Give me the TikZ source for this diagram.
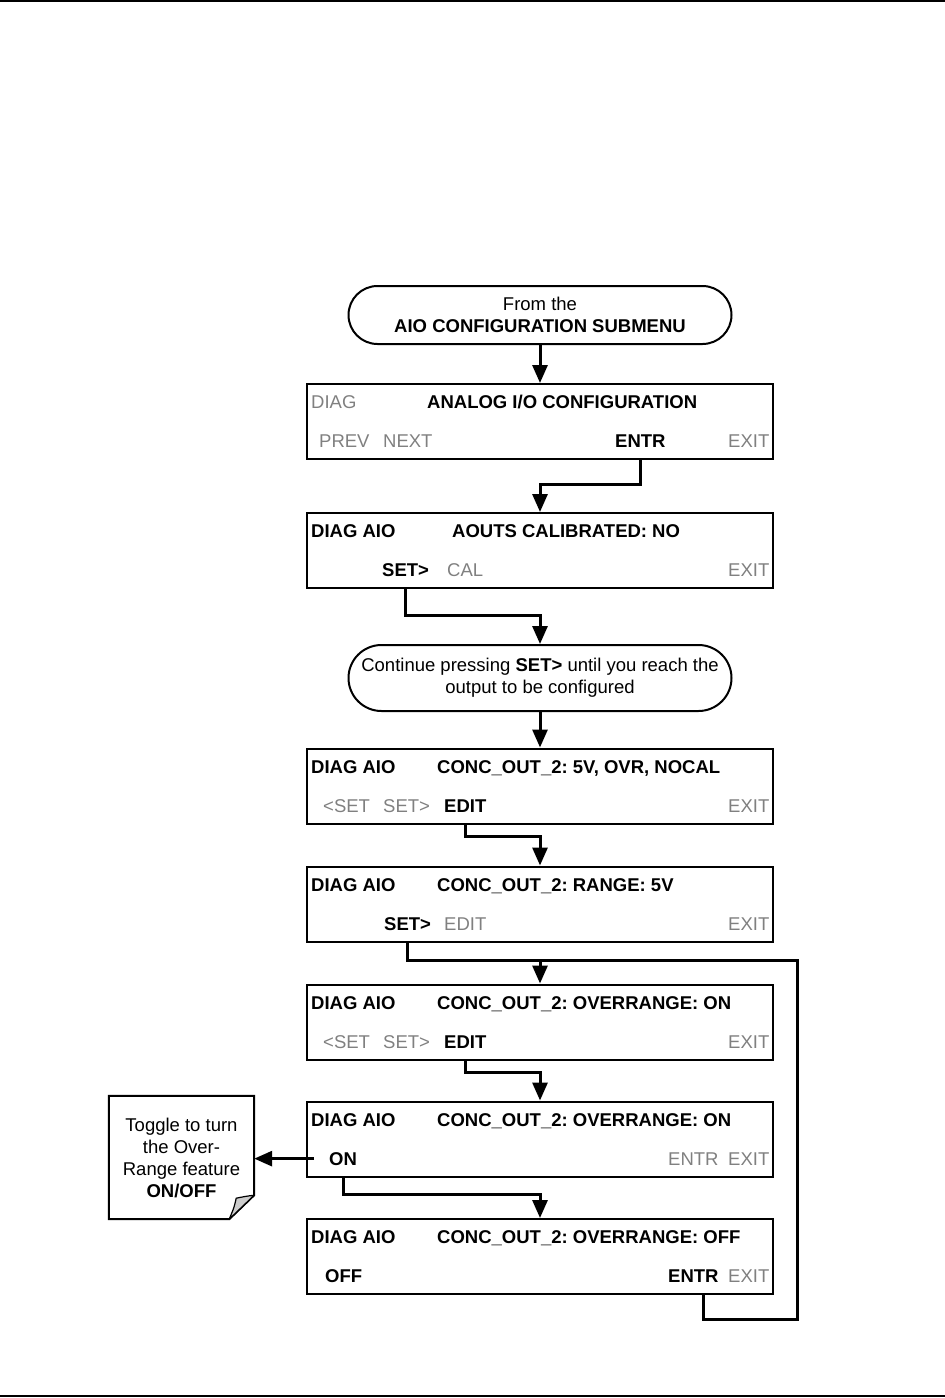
\documentclass[tikz,border=0pt]{standalone}
\usepackage{fontspec}
\setmainfont{Liberation Sans}
\usetikzlibrary{positioning, arrows.meta}
\frenchspacing

\begin{document}
\begin{tikzpicture}[
        x=1pt, y=-1pt,
        font=\fontsize{18.5pt}{22pt}\selectfont,
        screen/.style={draw, line width=2pt, minimum width=466pt, minimum height=75pt, inner sep=0pt},
        terminal/.style={draw, line width=2pt, minimum width=383pt, align=center, inner sep=0pt},
        btn/.style={anchor=base west, inner sep=0pt, font=\fontsize{18.5pt}{22pt}\selectfont\bfseries},
        btnoff/.style={anchor=base west, inner sep=0pt, text=black!50},
        wire/.style={draw, line width=3pt},
        arrow/.style={wire, -{Triangle[length=18pt, width=15pt]}}
    ]
    \useasboundingbox (0,0) rectangle (945,1398);

    % page rules
    \fill (0,0) rectangle (945,2);
    \fill (0,1395) rectangle (945,1397);

    % entry and hint
    \node (start) [terminal, minimum height=58pt, rounded corners=29pt] at (540,315) {From the\\\textbf{AIO CONFIGURATION SUBMENU}};
    \node (hint) [terminal, minimum height=66pt, rounded corners=33pt] at (540,678) {Continue pressing \textbf{SET>} until you reach the\\output to be configured};

    % screens
    \node (box1) [screen] at (540,421.5) {};
    \node (diag1) [btnoff] at (311,408) {DIAG};
    \node (title1) [btn] at (427,408) {ANALOG I/O CONFIGURATION};
    \node (prev1) [btnoff] at (319,447) {PREV};
    \node (next1) [btnoff] at (383,447) {NEXT};
    \node (entr1) [btn] at (615,447) {ENTR};
    \node (exit1) [btnoff] at (728,447) {EXIT};

    \node (box2) [screen] at (540,550.5) {};
    \node (diag2) [btn] at (311,537) {DIAG AIO};
    \node (title2) [btn] at (452,537) {AOUTS CALIBRATED: NO};
    \node (set2) [btn] at (382,576) {SET>};
    \node (cal2) [btnoff] at (447,576) {CAL};
    \node (exit2) [btnoff] at (728,576) {EXIT};

    \node (box3) [screen] at (540,786) {};
    \node (diag3) [btn] at (311,773) {DIAG AIO};
    \node (title3) [btn] at (437,773) {CONC\_OUT\_2: 5V, OVR, NOCAL};
    \node (prev3) [btnoff] at (323,812) {<SET};
    \node (next3) [btnoff] at (383,812) {SET>};
    \node (edit3) [btn] at (444,812) {EDIT};
    \node (exit3) [btnoff] at (728,812) {EXIT};

    \node (box4) [screen] at (540,904) {};
    \node (diag4) [btn] at (311,891) {DIAG AIO};
    \node (title4) [btn] at (437,891) {CONC\_OUT\_2: RANGE: 5V};
    \node (set4) [btn] at (384,930) {SET>};
    \node (edit4) [btnoff] at (444,930) {EDIT};
    \node (exit4) [btnoff] at (728,930) {EXIT};

    \node (box5) [screen] at (540,1022) {};
    \node (diag5) [btn] at (311,1009) {DIAG AIO};
    \node (title5) [btn] at (437,1009) {CONC\_OUT\_2: OVERRANGE: ON};
    \node (prev5) [btnoff] at (323,1048) {<SET};
    \node (next5) [btnoff] at (383,1048) {SET>};
    \node (edit5) [btn] at (444,1048) {EDIT};
    \node (exit5) [btnoff] at (728,1048) {EXIT};

    \node (box6) [screen] at (540,1139) {};
    \node (diag6) [btn] at (311,1126) {DIAG AIO};
    \node (title6) [btn] at (437,1126) {CONC\_OUT\_2: OVERRANGE: ON};
    \node (on6) [btn] at (329,1165) {ON};
    \node (entr6) [btnoff] at (668,1165) {ENTR};
    \node (exit6) [btnoff] at (728,1165) {EXIT};

    \node (box7) [screen] at (540,1256.5) {};
    \node (diag7) [btn] at (311,1243) {DIAG AIO};
    \node (title7) [btn] at (437,1243) {CONC\_OUT\_2: OVERRANGE: OFF};
    \node (off7) [btn] at (325,1282) {OFF};
    \node (entr7) [btn] at (668,1282) {ENTR};
    \node (exit7) [btnoff] at (728,1282) {EXIT};

    % note
    \node (note) [align=center, minimum width=145pt, minimum height=123pt, inner sep=0pt] at (181.5,1157.5) {Toggle to turn\\the Over-\\Range feature\\\textbf{ON/OFF}};
    \draw[line width=2pt] (note.north west) -- (note.north east) -- ([yshift=24pt]note.south east) -- ([xshift=-25pt]note.south east) -- (note.south west) -- cycle;
    \filldraw[fill=black!20, line width=1.2pt, line join=round] ([yshift=24pt]note.south east) .. controls ([xshift=-8pt,yshift=23pt]note.south east) .. ([xshift=-18pt,yshift=21pt]note.south east) .. controls ([xshift=-20pt,yshift=12pt]note.south east) .. ([xshift=-25pt]note.south east) -- cycle;

    % helpers
    \coordinate (join) at (540,960);
    \coordinate (turn) at (797,960);
    \coordinate (entrtap) at ([xshift=10pt]entr7.south);

    % connectors
    \draw[arrow] (start) -- (box1);
    \draw[arrow] (entr1 |- box1.south) -- ++(0,24) -| (box2.north);
    \draw[arrow] (set2 |- box2.south) -- ++(0,26) -| (hint.north);
    \draw[arrow] (hint) -- (box3);
    \draw[arrow] (edit3 |- box3.south) -- ++(0,12) -| (box4.north);
    \draw[wire] (set4 |- box4.south) |- (join);
    \draw[arrow] (join) -- (box5.north);
    \draw[arrow] (edit5 |- box5.south) -- ++(0,12) -| (box6.north);
    \draw[arrow] (on6 |- box6.south) -- ++(0,17) -| (box7.north);
    \draw[arrow] ([xshift=-15pt]on6.west) -- (note.east |- on6.west);
    \draw[wire] (entrtap |- box7.south) -- ++(0,24) -| (turn) -- (join);

\end{tikzpicture}
\end{document}
